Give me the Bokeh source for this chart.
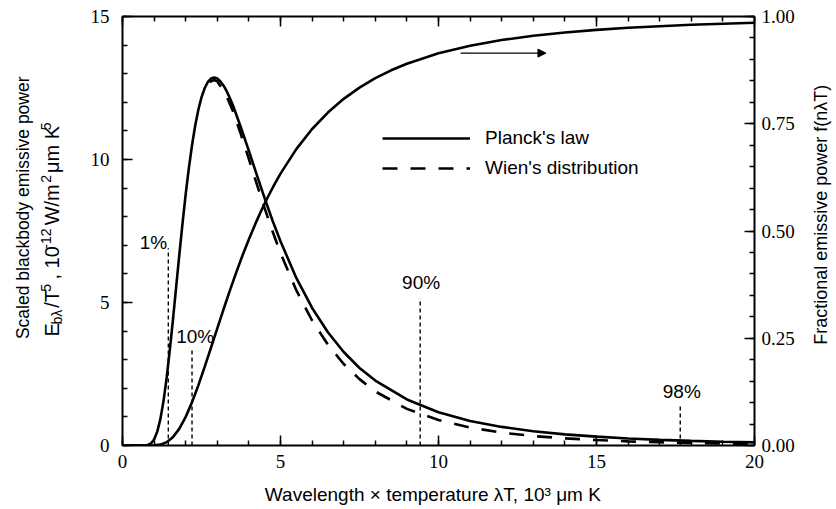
import math
from bokeh.plotting import figure
from bokeh.layouts import row, column
from bokeh.models import (Range1d, LinearAxis, FixedTicker, Label, Arrow, NormalHead,
                          Legend, LegendItem, CustomJSTickFormatter, NumeralTickFormatter)
from bokeh.embed import file_html
from bokeh.resources import INLINE

# ---------------- data ----------------
# Planck's law, scaled emissive power E_b(lambda)/T^5 [1e-12 W/m^2 um K^5] vs lambda*T [1e3 um K]
planck_lamT = [0.0, 0.5, 0.8, 0.9, 1.0, 1.1, 1.2, 1.3, 1.4, 1.5, 1.6, 1.7, 1.8, 1.9, 2.0, 2.1,
               2.2, 2.3, 2.4, 2.5, 2.6, 2.7, 2.8, 2.9, 3.0, 3.1, 3.2, 3.3, 3.4, 3.5, 3.75, 4.0,
               4.25, 4.5, 4.75, 5.0, 5.5, 6.0, 6.5, 7.0, 7.5, 8.0, 9.0, 10.0, 11.0, 12.0, 13.0,
               14.0, 15.0, 16.0, 17.0, 18.0, 19.0, 20.0]
planck_E = [0.0, 0.0, 0.018, 0.072, 0.21, 0.485, 0.93, 1.57, 2.39, 3.37, 4.44, 5.56, 6.69,
            7.77, 8.79, 9.70, 10.50, 11.18, 11.74, 12.17, 12.49, 12.71, 12.83, 12.87, 12.83,
            12.73, 12.58, 12.38, 12.14, 11.88, 11.11, 10.30, 9.46, 8.64, 7.86, 7.14, 5.86,
            4.81, 3.96, 3.27, 2.71, 2.27, 1.61, 1.16, 0.86, 0.65, 0.50, 0.39, 0.31, 0.245,
            0.198, 0.162, 0.133, 0.111]

# Wien's distribution (dashed), only distinguishable past the peak
wien_lamT = [2.75, 2.9, 3.0, 3.25, 3.5, 3.75, 4.0, 4.25, 4.5, 4.75, 5.0, 5.5, 6.0, 6.5, 7.0,
             7.5, 8.0, 9.0, 10.0, 11.0, 12.0, 13.0, 14.0, 15.0, 16.0, 17.0, 18.0, 19.0, 20.0]
wien_E = [12.71, 12.78, 12.73, 12.33, 11.68, 10.87, 10.01, 9.14, 8.29, 7.48, 6.73, 5.43, 4.37,
          3.53, 2.85, 2.32, 1.89, 1.28, 0.89, 0.63, 0.45, 0.33, 0.25, 0.19, 0.145, 0.113,
          0.089, 0.071, 0.057]

# Fractional emissive power f(0 -> lambda*T), right axis
frac_lamT = [0.0, 0.8, 1.0, 1.2, 1.4, 1.6, 1.8, 2.0, 2.2, 2.4, 2.6, 2.8, 3.0, 3.2, 3.4, 3.6,
             3.8, 4.0, 4.2, 4.4, 4.6, 4.8, 5.0, 5.5, 6.0, 6.5, 7.0, 7.5, 8.0, 8.5, 9.0, 10.0,
             11.0, 12.0, 13.0, 14.0, 15.0, 16.0, 18.0, 20.0]
frac_f = [0.0, 0.0, 0.0003, 0.0021, 0.0078, 0.0197, 0.0393, 0.0667, 0.1009, 0.1402, 0.1831,
          0.2279, 0.2732, 0.3181, 0.3617, 0.4036, 0.4434, 0.4809, 0.5160, 0.5488, 0.5793,
          0.6075, 0.6337, 0.6909, 0.7378, 0.7760, 0.8081, 0.8343, 0.8562, 0.8746, 0.8900,
          0.9142, 0.9318, 0.9451, 0.9551, 0.9628, 0.9689, 0.9738, 0.9809, 0.9856]

# Percentage markers
pct_labels = ["1%", "10%", "90%", "98%"]
pct_lamT = [1.45, 2.2, 9.42, 17.65]
pct_top = [6.9, 3.4, 5.15, 1.4]

x_ticks = [0, 5, 10, 15, 20]
y_ticks = [0, 5, 10, 15]
f_ticks = [0.0, 0.25, 0.5, 0.75, 1.0]

# ---------------- fonts / layout ----------------
SANS = "Liberation Sans"
SERIF = "Liberation Serif"

LEFT_W, MAIN_W, RIGHT_W, ROW_H, BOT_H = 70, 734, 28, 480, 25

p = figure(width=MAIN_W, height=ROW_H, output_backend="svg", toolbar_location=None,
           x_range=Range1d(0, 20), y_range=Range1d(0, 15),
           min_border_left=52, min_border_right=50, min_border_top=16, min_border_bottom=35,
           x_axis_location=None, y_axis_location=None)
p.extra_y_ranges = {"frac": Range1d(0, 1)}
p.grid.visible = False
p.outline_line_color = None
p.background_fill_color = "white"
p.border_fill_color = "white"


def style_axis(ax, show_labels=True):
    ax.axis_line_width = 2
    ax.axis_line_color = "black"
    ax.major_tick_in = 10
    ax.major_tick_out = 0
    ax.minor_tick_in = 5
    ax.minor_tick_out = 0
    ax.major_tick_line_width = 1.5
    ax.minor_tick_line_width = 1.5
    ax.major_tick_line_color = "black"
    ax.minor_tick_line_color = "black"
    ax.major_label_text_font = SERIF
    ax.major_label_text_font_size = "19px"
    ax.major_label_text_color = "black"
    if not show_labels:
        ax.formatter = CustomJSTickFormatter(code="return ''")
        ax.major_label_text_font_size = "1px"
        ax.major_label_standoff = 0


bottom = LinearAxis(ticker=FixedTicker(ticks=x_ticks, minor_ticks=list(range(0, 21))))
style_axis(bottom)
bottom.major_label_standoff = 9
p.add_layout(bottom, "below")

top = LinearAxis(ticker=FixedTicker(ticks=x_ticks, minor_ticks=list(range(0, 21))))
style_axis(top, show_labels=False)
p.add_layout(top, "above")

left = LinearAxis(ticker=FixedTicker(ticks=y_ticks, minor_ticks=list(range(0, 16))))
style_axis(left)
left.major_label_standoff = 13
p.add_layout(left, "left")

right = LinearAxis(y_range_name="frac",
                   ticker=FixedTicker(ticks=f_ticks, minor_ticks=[i * 0.05 for i in range(21)]),
                   formatter=NumeralTickFormatter(format="0.00"))
style_axis(right)
right.major_label_standoff = 7
p.add_layout(right, "right")

# ---------------- curves ----------------
r_planck = p.line(planck_lamT, planck_E, line_color="black", line_width=2.6)
r_wien = p.line(wien_lamT, wien_E, line_color="black", line_width=2.6, line_dash="15 13")
p.line(frac_lamT, frac_f, y_range_name="frac", line_color="black", line_width=2.6)

# percentage markers
p.segment(x0=pct_lamT, y0=[0] * len(pct_lamT), x1=pct_lamT, y1=pct_top,
          line_color="black", line_width=1.4, line_dash="4 3")
pct_text_pos = [(0.98, 7.1), (2.3, 3.8), (9.45, 5.7), (17.7, 1.9)]
for txt, (tx, ty) in zip(pct_labels, pct_text_pos):
    p.add_layout(Label(x=tx, y=ty, text=txt, text_align="center", text_baseline="middle",
                       text_font=SANS, text_font_size="19px", text_color="black"))

# arrow pointing to the right axis
p.add_layout(Arrow(end=NormalHead(size=8, fill_color="black", line_color="black", line_width=1),
                   x_start=10.7, y_start=13.72, x_end=13.4, y_end=13.72,
                   line_color="black", line_width=1.4))

# legend
legend = Legend(items=[LegendItem(label="Planck's law", renderers=[r_planck]),
                       LegendItem(label="Wien's distribution", renderers=[r_wien])],
                location=(260, 266))
legend.background_fill_alpha = 0
legend.border_line_color = None
legend.label_text_font = SANS
legend.label_text_font_size = "19px"
legend.label_text_color = "black"
legend.glyph_width = 88
legend.glyph_height = 20
legend.label_height = 20
legend.label_standoff = 15
legend.spacing = 8
legend.padding = 0
legend.margin = 0
p.add_layout(legend)


# ---------------- axis titles in small text panels ----------------
def text_panel(w, h):
    f = figure(width=w, height=h, output_backend="svg", toolbar_location=None,
               x_range=Range1d(0, w), y_range=Range1d(0, h),
               min_border=0, x_axis_location=None, y_axis_location=None)
    f.grid.visible = False
    f.outline_line_color = None
    f.background_fill_color = "white"
    f.border_fill_color = "white"
    return f


def lab(f, x, y, text, size=18, angle=0.0, align="center"):
    f.add_layout(Label(x=x, y=y, text=text, angle=angle, text_align=align,
                       text_baseline="middle", text_font=SANS,
                       text_font_size=f"{size}px", text_color="black"))


up = math.pi / 2

# left panel: two-line title
lp = text_panel(LEFT_W, ROW_H)
lab(lp, 22, 266, "Scaled blackbody emissive power", size=17.5, angle=up)
# second line, E_b\u03bb/T^5, 10^-12 W/m^2 \u03bcm K^5  (pieces with sub/superscripts)
MAIN, SMALL = 20, 14
pieces = [  # text, size, x-shift (neg = raised), width in em, gap after
    ("E", MAIN, 0, 0.667, 0),
    ("b\u03bb", SMALL, 5, 1.06, 4),
    ("/T", MAIN, 0, 0.889, 0),
    ("5", SMALL, -6, 0.556, 6),
    (", 10", MAIN, 0, 1.668, 1),
    ("-12", SMALL, -6, 1.445, 6),
    (" W/m", MAIN, 0, 2.333, 1),
    ("2", SMALL, -6, 0.556, 3),
    ("\u03bcm K", MAIN, 0, 2.354, 1),
    ("5", SMALL, -6, 0.556, 0),
]
xc, ypos = 51, 122
for txt, size, dx, wem, gap in pieces:
    lab(lp, xc + dx, ypos, txt, size=size, angle=up, align="left")
    ypos += wem * size + gap

# right panel
rp = text_panel(RIGHT_W, ROW_H)
lab(rp, 16, 261, "Fractional emissive power  f(n\u03bbT)", size=18, angle=up)

# bottom panel
bp = text_panel(LEFT_W + MAIN_W + RIGHT_W, BOT_H)
lab(bp, 435, 11, "Wavelength \u00d7 temperature  \u03bbT, 10\u00b3 \u03bcm K", size=19)

layout = column(row(lp, p, rp, spacing=0), bp, spacing=0)
open("out.html", "w").write(file_html(layout, INLINE))
